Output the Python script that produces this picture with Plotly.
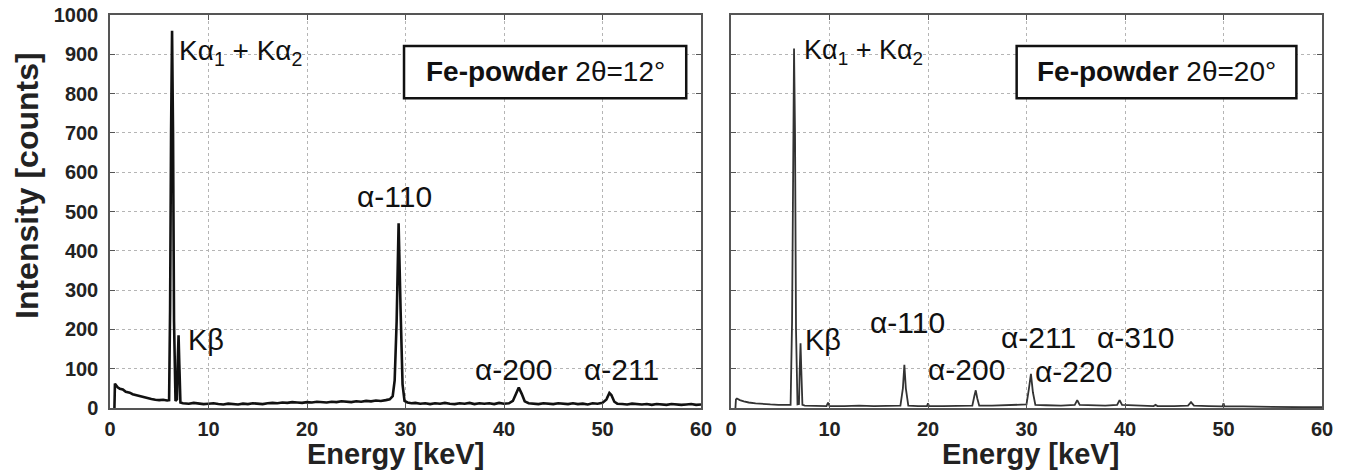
import plotly.graph_objects as go

# ---------------- data ----------------
left_energy = [0.45, 0.5, 0.6, 0.8, 1.0, 1.3, 1.6, 2.0, 2.3, 2.6, 3.0, 3.4, 3.8, 4.2, 4.6, 5.0, 5.4, 5.8, 6.0,
               6.1, 6.2, 6.3, 6.4, 6.5, 6.65, 6.8, 6.88, 6.96, 7.04, 7.15, 7.4,
               8.0, 8.5, 9.0, 9.5, 10.0, 10.5, 11.0, 11.5, 12.0, 12.5, 13.0, 13.5, 14.0, 14.5, 15.0, 15.5, 16.0,
               16.5, 17.0, 17.5, 18.0, 18.5, 19.0, 19.5, 20.0, 20.5, 21.0, 21.5, 22.0, 22.5, 23.0, 23.5, 24.0,
               24.5, 25.0, 25.5, 26.0, 26.5, 27.0, 27.5, 28.0, 28.4, 28.7, 28.9, 29.1, 29.3, 29.5, 29.7, 29.9,
               30.2, 30.6, 31.0, 31.5, 32.0, 32.5, 33.0, 33.5, 34.0, 34.5, 35.0, 35.5, 36.0, 36.5, 37.0, 37.5,
               38.0, 38.5, 39.0, 39.5, 40.0, 40.5, 40.9, 41.2, 41.5, 41.8, 42.1, 42.5, 43.0, 43.5, 44.0, 44.5,
               45.0, 45.5, 46.0, 46.5, 47.0, 47.5, 48.0, 48.5, 49.0, 49.5, 50.0, 50.4, 50.7, 50.9, 51.2, 51.5,
               52.0, 52.5, 53.0, 53.5, 54.0, 54.5, 55.0, 55.5, 56.0, 56.5, 57.0, 57.5, 58.0, 58.5, 59.0, 59.5, 60.0]
left_counts = [0, 62, 58, 52, 49, 47, 41, 39, 35, 33, 29, 27, 25, 23, 21, 20, 21, 19, 20,
               250, 700, 960, 700, 220, 18, 22, 120, 185, 110, 14, 12,
               11, 13, 12, 10, 11, 12, 10, 9, 11, 10, 9, 11, 10, 12, 11, 10, 12,
               13, 12, 14, 13, 15, 14, 13, 15, 14, 16, 15, 14, 16, 15, 17, 16,
               15, 17, 16, 18, 17, 19, 18, 20, 22, 30, 70, 220, 470, 250, 60, 18,
               14, 12, 13, 11, 12, 10, 12, 11, 13, 11, 10, 12, 11, 13, 10, 12,
               11, 12, 10, 13, 11, 12, 18, 35, 52, 36, 17, 12, 11, 10, 12, 11,
               10, 12, 11, 10, 12, 10, 11, 9, 12, 11, 13, 22, 38, 33, 16, 11,
               10, 9, 11, 10, 9, 10, 8, 10, 9, 8, 10, 9, 8, 9, 10, 8, 9]

right_energy = [0.45, 0.5, 0.6, 0.9, 1.3, 1.8, 2.5, 3.2, 4.0, 4.8, 5.5, 6.05, 6.2, 6.3, 6.4, 6.5, 6.6, 6.75,
                6.9, 6.98, 7.06, 7.14, 7.25, 7.5, 8.5, 9.7, 9.85, 10.0, 11.5, 13.0, 14.5, 16.0, 17.2, 17.45,
                17.6, 17.75, 18.0, 19.0, 19.9, 20.0, 20.1, 21.5, 23.0, 24.5, 24.7, 24.85, 25.0, 25.2, 26.5,
                28.0, 29.5, 30.0, 30.25, 30.45, 30.65, 30.9, 32.0, 33.5, 34.9, 35.15, 35.4, 36.5, 38.0, 39.2,
                39.45, 39.7, 41.0, 42.9, 43.1, 43.3, 45.0, 46.4, 46.7, 47.0, 48.5, 49.9, 50.0, 50.1, 52.0,
                54.0, 56.0, 58.0, 60.0]
right_counts = [0, 22, 24, 20, 17, 14, 12, 10, 9, 8, 8, 8, 220, 700, 915, 700, 200, 9,
                10, 100, 165, 95, 8, 6, 6, 5, 14, 5, 5, 6, 5, 6, 6, 50,
                110, 50, 6, 5, 5, 12, 5, 5, 6, 6, 30, 45, 25, 6, 6,
                7, 8, 9, 50, 87, 40, 8, 7, 6, 8, 20, 8, 7, 6, 8,
                20, 8, 6, 5, 8, 5, 5, 6, 15, 6, 5, 4, 12, 4, 4,
                3, 3, 2, 2]

x_ticks = [0, 10, 20, 30, 40, 50, 60]
y_ticks = [0, 100, 200, 300, 400, 500, 600, 700, 800, 900, 1000]

left_labels = [("Kα<sub>1</sub> + Kα<sub>2</sub>", 6.8, 905, "left", 28),
               ("Kβ", 7.7, 173, "left", 29),
               ("α-110", 28.9, 538, "center", 30),
               ("α-200", 41.0, 97, "center", 30),
               ("α-211", 51.9, 97, "center", 30)]
right_labels = [("Kα<sub>1</sub> + Kα<sub>2</sub>", 7.2, 905, "left", 27),
                ("Kβ", 7.3, 173, "left", 29),
                ("α-110", 17.9, 217, "center", 30),
                ("α-200", 23.9, 97, "center", 30),
                ("α-211", 31.2, 179, "center", 30),
                ("α-220", 34.8, 92, "center", 30),
                ("α-310", 41.1, 179, "center", 30)]

W, H = 1345, 471
FONT = "Liberation Sans, Arial, sans-serif"

fig = go.Figure()
fig.add_trace(go.Scatter(x=left_energy, y=left_counts, mode="lines", xaxis="x", yaxis="y",
                         line=dict(color="#111111", width=2.6), showlegend=False))
fig.add_trace(go.Scatter(x=right_energy, y=right_counts, mode="lines", xaxis="x2", yaxis="y2",
                         line=dict(color="#333333", width=1.8), showlegend=False))

common_axis = dict(showgrid=True, gridcolor="#b5b5b5", griddash="dot", gridwidth=1,
                   showline=True, linecolor="#555555", linewidth=1.5, mirror="ticks",
                   ticks="inside", ticklen=5, tickcolor="#555555", zeroline=False,
                   automargin=False,
                   tickfont=dict(family=FONT, size=20, color="#222222", weight="bold"))

ydom = [1 - 408 / H, 1 - 15 / H]
fig.update_layout(
    width=W, height=H, margin=dict(l=0, r=0, t=0, b=0, autoexpand=False),
    paper_bgcolor="white", plot_bgcolor="white", showlegend=False,
    xaxis=dict(domain=[110 / W, 701 / W], range=[0, 60], tickvals=x_ticks, anchor="y",
               ticklabelstandoff=2, **common_axis),
    yaxis=dict(domain=ydom, range=[0, 1000], tickvals=y_ticks, anchor="x",
               ticklabelstandoff=6, **common_axis),
    xaxis2=dict(domain=[731 / W, 1322 / W], range=[0, 60], tickvals=x_ticks, anchor="y2",
                ticklabelstandoff=2, **common_axis),
    yaxis2=dict(domain=ydom, range=[0, 1000], tickvals=y_ticks, anchor="x2",
                showticklabels=False, **common_axis),
)

shapes = [
    dict(type="rect", xref="x", yref="y", x0=29.85, x1=58.5, y0=788, y1=921,
         line=dict(color="#111111", width=2.5), fillcolor="white", layer="above"),
    dict(type="rect", xref="x2", yref="y2", x0=29.0, x1=57.4, y0=788, y1=921,
         line=dict(color="#111111", width=2.5), fillcolor="white", layer="above"),
]
fig.update_layout(shapes=shapes)

ann = []
ann.append(dict(text="<b>Fe-powder</b> 2θ=12°", xref="x", yref="y", x=44.2, y=855, showarrow=False,
                font=dict(family=FONT, size=28, color="#111111")))
ann.append(dict(text="<b>Fe-powder</b> 2θ=20°", xref="x2", yref="y2", x=43.2, y=855, showarrow=False,
                font=dict(family=FONT, size=28, color="#111111")))
for txt, xx, yy, anc, sz in left_labels:
    ann.append(dict(text=txt, xref="x", yref="y", x=xx, y=yy, xanchor=anc, yanchor="middle",
                    showarrow=False, font=dict(family=FONT, size=sz, color="#111111")))
for txt, xx, yy, anc, sz in right_labels:
    ann.append(dict(text=txt, xref="x2", yref="y2", x=xx, y=yy, xanchor=anc, yanchor="middle",
                    showarrow=False, font=dict(family=FONT, size=sz, color="#111111")))
ann.append(dict(text="<b>Intensity [counts]</b>", xref="paper", yref="paper", x=27 / W, y=1 - 186 / H,
                textangle=-90, showarrow=False, xanchor="center", yanchor="middle",
                font=dict(family=FONT, size=32, color="#222222")))
ann.append(dict(text="<b>Energy [keV]</b>", xref="paper", yref="paper", x=395 / W, y=0,
                showarrow=False, xanchor="center", yanchor="bottom", borderpad=0,
                font=dict(family=FONT, size=29, color="#222222")))
ann.append(dict(text="<b>Energy [keV]</b>", xref="paper", yref="paper", x=1030 / W, y=0,
                showarrow=False, xanchor="center", yanchor="bottom", borderpad=0,
                font=dict(family=FONT, size=29, color="#222222")))
fig.update_layout(annotations=ann)

fig.write_html("out.html", config={"displayModeBar": False},
               post_script="document.body.style.margin='0';document.body.style.overflow='hidden';")
